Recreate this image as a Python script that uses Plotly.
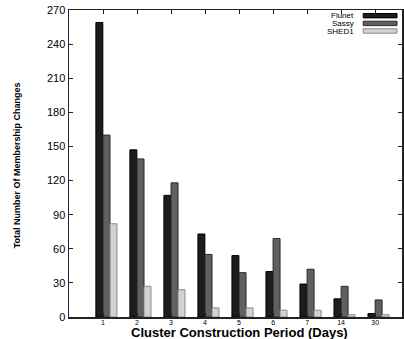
import plotly.graph_objects as go

categories = ["1", "2", "3", "4", "5", "6", "7", "14", "30"]
flunet = [259, 147, 107, 73, 54, 40, 29, 16, 3]
sassy = [160, 139, 118, 55, 39, 69, 42, 27, 15]
shed1 = [82, 27, 24, 8, 8, 6, 6, 2, 2]
y_ticks = [0, 30, 60, 90, 120, 150, 180, 210, 240, 270]

pos = list(range(len(categories)))
W = 0.205
series = [
    ("Flunet", flunet, "#1c1c1c", "#000000", -0.21),
    ("Sassy", sassy, "#606060", "#2a2a2a", 0.0),
    ("SHED1", shed1, "#d2d2d2", "#8a8a8a", 0.205),
]

fig = go.Figure()
for name, vals, fill, line, off in series:
    fig.add_trace(go.Bar(
        x=pos, y=vals, name=name, width=W, offset=off,
        marker=dict(color=fill, line=dict(color=line, width=1)),
        showlegend=False, hoverinfo="skip",
    ))

FONT = "Liberation Sans, Arial, Helvetica, sans-serif"

fig.update_layout(
    width=404, height=339,
    margin=dict(l=69, r=0, t=10, b=22),
    paper_bgcolor="white", plot_bgcolor="white",
    barmode="overlay",
    font=dict(family=FONT, color="#000"),
    xaxis=dict(
        range=[-1, 8.79], tickvals=pos, ticktext=categories,
        tickfont=dict(size=7, color="#000"), ticks="inside", ticklen=4, tickcolor="#222",
        ticklabelstandoff=-2,
        showline=True, linecolor="#222", linewidth=1.5, mirror="ticks",
        showgrid=False, zeroline=False, fixedrange=True,
    ),
    yaxis=dict(
        range=[0, 270], tickvals=y_ticks,
        tickfont=dict(size=11, color="#000"), ticks="inside", ticklen=4, tickcolor="#222",
        showline=True, linecolor="#222", linewidth=1.5, mirror="ticks",
        showgrid=False, zeroline=False, fixedrange=True,
    ),
    annotations=[
        dict(text="<b>Cluster Construction Period (Days)</b>", xref="paper", yref="paper",
             x=(241 - 69) / 335, y=-15.5 / 307, yanchor="middle", xanchor="center",
             showarrow=False, font=dict(size=13, family=FONT)),
        dict(text="<b>Total Number Of Membership Changes</b>", xref="paper", yref="paper",
             x=(17 - 69) / 335, y=(317 - 165) / 307, xanchor="center", yanchor="middle",
             textangle=-90, showarrow=False,
             font=dict(size=9, family="Liberation Sans Narrow, " + FONT)),
    ],
)

# legend (text left of sample, right aligned)
leg_rows = [15.7, 23.4, 31.0]
for (name, vals, fill, line, off), yy in zip(series, leg_rows):
    yp = (317 - yy) / 307
    fig.add_annotation(text=name, xref="paper", yref="paper", x=(358 - 69) / 335, y=yp,
                       xanchor="right", yanchor="middle", showarrow=False,
                       font=dict(size=8, family=FONT))
    fig.add_shape(type="rect", xref="paper", yref="paper",
                  x0=(365 - 69) / 335, x1=(399 - 69) / 335,
                  y0=yp - 2.2 / 307, y1=yp + 2.2 / 307,
                  fillcolor=fill, line=dict(color=line, width=1))

fig.write_html("out.html", config={"displayModeBar": False, "staticPlot": True},
               post_script="document.body.style.margin='0';document.body.style.overflow='hidden';")
